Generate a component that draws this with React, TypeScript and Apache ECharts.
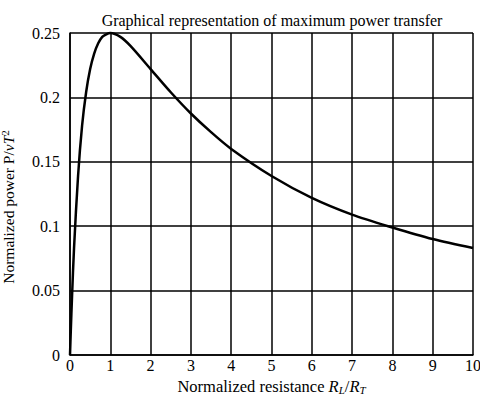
import React, { useEffect, useRef } from "react";
import * as echarts from "echarts";

const resistance = [0, 0.02, 0.05, 0.1, 0.2, 0.3, 0.4, 0.5, 0.6, 0.7, 0.8, 0.9, 1, 1.25, 1.5, 2, 2.5, 3, 3.5, 4, 5, 6, 7, 8, 9, 10];
const power = [0, 0.019, 0.045, 0.083, 0.139, 0.178, 0.204, 0.222, 0.234, 0.242, 0.247, 0.249, 0.25, 0.247, 0.24, 0.222, 0.204, 0.1875, 0.173, 0.16, 0.139, 0.122, 0.109, 0.099, 0.09, 0.083];
const yTicks = [0, 0.05, 0.1, 0.15, 0.2, 0.25];

const FONT = "'Liberation Serif', 'DejaVu Serif', serif";
const C = "#000";

export default function App() {
  const ref = useRef<HTMLDivElement>(null);
  useEffect(() => {
    if (!ref.current) return;
    const chart = echarts.init(ref.current, null, { renderer: "svg" });
    chart.setOption({
      animation: false,
      backgroundColor: "#fff",
      title: {
        text: "Graphical representation of maximum power transfer",
        left: 267,
        textAlign: "center",
        top: 7,
        textStyle: { fontFamily: FONT, fontSize: 16, fontWeight: "normal", color: C },
      },
      grid: { left: 70, right: 7, top: 33, bottom: 43, containLabel: false, outerBoundsMode: "none" },
      xAxis: {
        type: "value",
        min: 0,
        max: 10,
        interval: 1,
        axisLine: { show: true, lineStyle: { color: C, width: 1.5 } },
        axisTick: { show: false },
        splitLine: { show: true, lineStyle: { color: C, width: 1.5 } },
        axisLabel: { fontFamily: FONT, fontSize: 16, color: C, margin: 2 },
        name: "{n|Normalized resistance }{i|R}{s|L}{n|/}{i|R}{s|T}",
        nameLocation: "middle",
        nameGap: 18,
        nameTextStyle: {
          rich: {
            n: { fontFamily: FONT, fontSize: 16.5, color: C },
            i: { fontFamily: FONT, fontSize: 16.5, fontStyle: "italic", color: C },
            s: { fontFamily: FONT, fontSize: 11, fontStyle: "italic", color: C, padding: [7, 0, 0, 0] },
          },
        },
      },
      yAxis: {
        type: "value",
        min: 0,
        max: 0.25,
        interval: 0.05,
        axisLine: { show: true, lineStyle: { color: C, width: 1.5 } },
        axisTick: { show: false },
        splitLine: { show: true, lineStyle: { color: C, width: 1.5 } },
        axisLabel: {
          fontFamily: FONT,
          fontSize: 16,
          color: C,
          margin: 10,
          formatter: (v: number) => {
            const t = yTicks.find((y) => Math.abs(y - v) < 1e-9);
            return t === undefined ? "" : String(t);
          },
        },
        name: "{n|Normalized power P/}{i|vT}{p|2}",
        nameLocation: "middle",
        nameGap: 52,
        nameRotate: 90,
        nameTextStyle: {
          padding: [0, 26, 0, 0],
          rich: {
            n: { fontFamily: FONT, fontSize: 15.5, color: C },
            i: { fontFamily: FONT, fontSize: 15.5, fontStyle: "italic", color: C },
            p: { fontFamily: FONT, fontSize: 11, color: C, padding: [0, 0, 8, 0] },
          },
        },
      },
      series: [
        {
          type: "line",
          data: resistance.map((x, i) => [x, power[i]]),
          smooth: 0.3,
          showSymbol: false,
          clip: false,
          lineStyle: { color: C, width: 2.5 },
        },
      ],
    });
    return () => chart.dispose();
  }, []);
  return <div ref={ref} style={{ width: 480, height: 398, position: "absolute", left: 0, top: 0 }} />;
}
